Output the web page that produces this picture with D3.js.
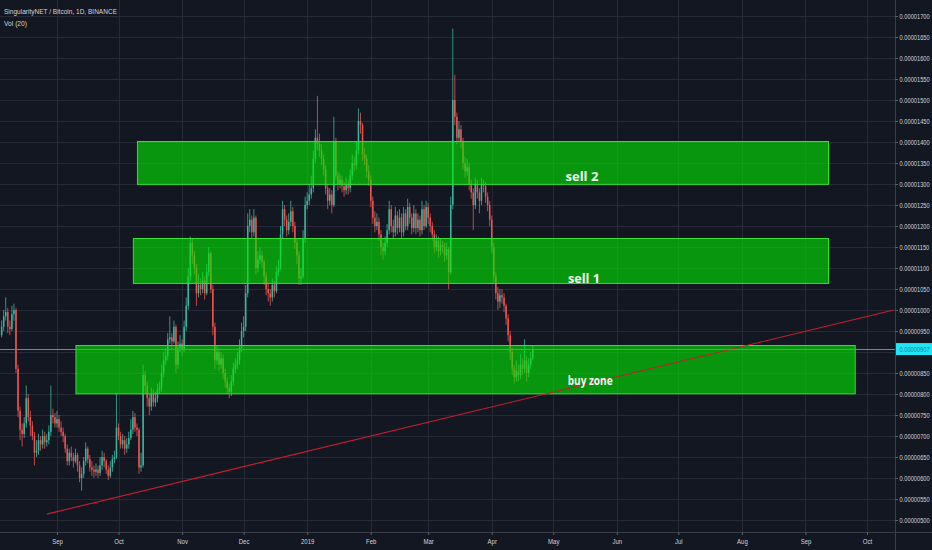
<!DOCTYPE html>
<html><head><meta charset="utf-8">
<script src="https://cdn.jsdelivr.net/npm/d3@7"></script>
<style>
html,body{margin:0;padding:0;background:#131722;}
svg{display:block;}
</style></head><body>
<svg id="chart" width="932" height="550"></svg>
<script>
// ---------- DATA (prices in 1e-8 BTC) ----------
const startDate = "2018-08-05";
const firstOpen = 940;
const closes = [960,985,995,960,955,990,1000,860,760,715,
705,730,790,745,725,700,660,665,690,680,
700,685,690,710,750,745,730,740,720,710,
700,670,640,660,650,640,655,630,600,610,
640,670,645,625,620,615,620,612,630,650,
640,620,605,625,645,650,720,700,680,690,
670,680,695,715,745,720,715,625,630,845,
820,790,770,800,780,790,810,815,850,880,
890,930,935,925,960,870,910,920,905,960,
1010,1080,1160,1130,1100,1040,1060,1050,1070,1040,
1090,1135,1050,960,880,900,870,885,850,830,
815,805,830,860,870,880,910,950,960,1040,
1200,1215,1185,1220,1100,1120,1130,1115,1080,1050,
1040,1030,1060,1045,1090,1100,1180,1240,1215,1190,
1210,1235,1200,1160,1130,1075,1080,1170,1250,1260,
1275,1290,1360,1410,1395,1380,1360,1335,1290,1260,
1275,1250,1400,1320,1300,1310,1295,1285,1300,1290,
1320,1350,1345,1380,1450,1440,1370,1360,1330,1310,
1260,1220,1200,1210,1180,1150,1140,1160,1190,1240,
1200,1185,1225,1195,1220,1185,1230,1200,1245,1220,
1195,1230,1195,1215,1190,1240,1200,1245,1220,1200,
1180,1150,1165,1140,1155,1150,1130,1145,1090,1250,
1500,1460,1410,1430,1400,1350,1330,1340,1300,1280,
1250,1300,1280,1260,1300,1295,1270,1250,1215,1150,
1080,1040,1020,1035,1030,1010,980,940,900,860,
840,855,845,870,860,880,850,870,885,907];
const highs = [975,1000,1030,1005,975,1010,1015,1005,870,770,
730,745,820,800,760,735,710,690,705,700,
715,710,705,725,820,765,755,760,750,735,
720,705,680,670,675,660,670,660,640,625,
650,685,675,655,640,630,635,630,650,665,
660,645,630,640,655,665,800,730,710,705,
700,695,710,740,760,755,730,720,660,870,
855,830,800,815,810,805,825,830,870,900,
910,945,985,945,975,965,925,940,930,975,
1030,1100,1175,1170,1140,1110,1085,1075,1090,1080,
1110,1150,1140,1060,970,915,910,900,895,860,
840,825,845,875,885,900,930,970,985,1060,
1230,1240,1225,1240,1225,1140,1150,1140,1120,1090,
1065,1050,1075,1070,1105,1120,1200,1260,1250,1225,
1230,1260,1245,1210,1170,1140,1100,1190,1270,1280,
1300,1320,1380,1430,1510,1420,1395,1370,1345,1300,
1290,1285,1460,1410,1330,1325,1320,1305,1315,1310,
1335,1370,1365,1400,1480,1470,1445,1385,1370,1345,
1320,1270,1235,1230,1220,1190,1160,1175,1205,1260,
1250,1215,1245,1235,1240,1230,1245,1240,1265,1255,
1230,1250,1240,1230,1225,1260,1250,1260,1255,1230,
1210,1190,1180,1175,1170,1165,1160,1160,1150,1270,
1670,1560,1470,1450,1440,1410,1365,1360,1350,1310,
1290,1315,1310,1290,1315,1310,1305,1280,1260,1225,
1160,1090,1055,1050,1050,1040,1015,990,950,910,
870,880,870,895,885,930,890,885,900,915];
const lows = [935,950,975,945,940,950,975,850,745,690,
675,695,720,735,700,690,630,650,655,665,
670,670,675,680,700,730,720,720,710,700,
685,660,630,630,640,625,635,615,590,570,
600,630,635,615,605,600,605,600,605,620,
625,610,595,600,615,635,645,690,670,670,
655,660,670,690,705,710,700,610,615,625,
800,770,750,760,770,770,780,800,805,840,
870,880,920,905,920,850,860,900,890,900,
950,1000,1070,1110,1085,1010,1030,1035,1040,1025,
1035,1080,1040,940,860,870,855,860,835,815,
800,790,795,820,850,860,870,900,935,950,
1030,1185,1170,1175,1085,1090,1110,1100,1060,1035,
1020,1010,1020,1030,1040,1080,1095,1170,1200,1175,
1180,1200,1185,1145,1110,1060,1060,1075,1160,1240,
1250,1265,1280,1350,1380,1365,1345,1320,1275,1240,
1250,1230,1245,1310,1285,1290,1280,1270,1275,1275,
1280,1310,1330,1335,1370,1420,1355,1345,1315,1295,
1245,1205,1185,1190,1165,1130,1120,1130,1150,1180,
1185,1170,1175,1180,1185,1170,1175,1190,1190,1205,
1180,1185,1180,1185,1175,1180,1190,1195,1205,1185,
1165,1135,1140,1125,1130,1135,1115,1120,1050,1085,
1240,1440,1395,1400,1385,1335,1315,1320,1285,1265,
1190,1240,1265,1230,1250,1280,1255,1235,1200,1135,
1065,1025,1000,1005,1015,995,965,925,880,845,
825,830,830,835,845,850,830,840,860,880];

const priceTicks = [500,550,600,650,700,750,800,850,900,950,1000,1050,1100,1150,1200,1250,1300,1350,1400,1450,1500,1550,1600,1650,1700];
const monthTicks = ["2018-09-01","2018-10-01","2018-11-01","2018-12-01","2019-01-01","2019-02-01","2019-03-01","2019-04-01","2019-05-01","2019-06-01","2019-07-01","2019-08-01","2019-09-01","2019-10-01"];
const monthLabels = ["Sep","Oct","Nov","Dec","2019","Feb","Mar","Apr","May","Jun","Jul","Aug","Sep","Oct"];

const zoneNames = ["sell 2","sell 1","buy zone"];
const zoneFrom = ["2018-10-10","2018-10-08","2018-09-10"];
const zoneTo = ["2019-09-12","2019-09-12","2019-09-25"];
const zoneLow = [1300,1064,802];
const zoneHigh = [1402,1171,917];
const zoneLabelDate = ["2019-05-15","2019-05-16","2019-05-19"];
const zoneLabelPrice = [1319,1076,831];

const trendDates = ["2018-08-27","2019-10-14"];
const trendPrices = [514,1000];
const lastPrice = 907;

const titleText = "SingularityNET / Bitcoin, 1D, BINANCE";
const volText = "Vol (20)";

// ---------- CHART ----------
const parse = d3.utcParse("%Y-%m-%d");
const start = parse(startDate);
const candles = closes.map((c,i)=>({
  date: d3.utcDay.offset(start,i),
  open: i===0 ? firstOpen : closes[i-1],
  high: highs[i], low: lows[i], close: c
}));
const monthDates = monthTicks.map(parse);

const W=932, H=550, plotR=895, plotB=532;
const x = d3.scaleUtc().domain([parse("2018-09-01"), parse("2019-10-01")]).range([57,867]);
const y = d3.scaleLinear().domain([500,1700]).range([520,16]);

const svg = d3.select("#chart");
svg.append("rect").attr("width",W).attr("height",H).attr("fill","#131722");
svg.append("defs").append("clipPath").attr("id","clip")
  .append("rect").attr("width",plotR).attr("height",plotB);
const plot = svg.append("g").attr("clip-path","url(#clip)");

// grid
plot.append("g").selectAll("line").data(priceTicks).join("line")
  .attr("x1",0).attr("x2",plotR)
  .attr("y1",d=>Math.round(y(d))+0.5).attr("y2",d=>Math.round(y(d))+0.5)
  .attr("stroke","#262a36").attr("stroke-width",1);
plot.append("g").selectAll("line").data(monthDates).join("line")
  .attr("x1",d=>Math.round(x(d))+0.5).attr("x2",d=>Math.round(x(d))+0.5)
  .attr("y1",0).attr("y2",plotB)
  .attr("stroke","#262a36").attr("stroke-width",1);

// candles
const upC = "#3bb59e", downC = "#ef5350";
const bw = 1.5;
const cg = plot.append("g");
cg.selectAll("line").data(candles).join("line")
  .attr("x1",d=>x(d.date)).attr("x2",d=>x(d.date))
  .attr("y1",d=>y(d.high)).attr("y2",d=>y(d.low))
  .attr("stroke",d=>d.close>=d.open?upC:downC).attr("stroke-width",0.8);
cg.selectAll("rect").data(candles).join("rect")
  .attr("x",d=>x(d.date)-bw/2).attr("width",bw)
  .attr("y",d=>y(Math.max(d.open,d.close)))
  .attr("height",d=>Math.max(0.8,Math.abs(y(d.open)-y(d.close))))
  .attr("fill",d=>d.close>=d.open?upC:downC);

// zones
const zones = zoneNames.map((n,i)=>({name:n, from:parse(zoneFrom[i]), to:parse(zoneTo[i]), low:zoneLow[i], high:zoneHigh[i], ld:parse(zoneLabelDate[i]), lp:zoneLabelPrice[i]}));
plot.append("g").selectAll("rect").data(zones).join("rect")
  .attr("x",d=>x(d.from)+0.5).attr("width",d=>x(d.to)-x(d.from))
  .attr("y",d=>Math.round(y(d.high))+0.5).attr("height",d=>y(d.low)-y(d.high))
  .attr("fill","rgba(0,235,0,0.6)").attr("stroke","#33e033").attr("stroke-width",1);

// trend line
plot.append("line")
  .attr("x1",x(parse(trendDates[0]))).attr("y1",y(trendPrices[0]))
  .attr("x2",x(parse(trendDates[1]))).attr("y2",y(trendPrices[1]))
  .attr("stroke","#c81e2c").attr("stroke-width",1.1);

// last price line
plot.append("line").attr("x1",0).attr("x2",plotR)
  .attr("y1",Math.round(y(lastPrice))+0.5).attr("y2",Math.round(y(lastPrice))+0.5)
  .attr("stroke","#00b8cc").attr("stroke-width",1);

// zone labels
const labelW = {"sell 2":33,"sell 1":32,"buy zone":45};
plot.append("g").selectAll("text").data(zones).join("text")
  .attr("x",d=>x(d.ld)).attr("y",d=>y(d.lp)+4.5)
  .attr("text-anchor","middle")
  .attr("font-family","'Open Sans', 'DejaVu Sans', sans-serif")
  .attr("font-weight","bold").attr("font-size",13)
  .attr("fill","#f3f7f3")
  .attr("textLength",d=>labelW[d.name]).attr("lengthAdjust","spacingAndGlyphs")
  .text(d=>d.name);

// axis lines
svg.append("line").attr("x1",plotR+0.5).attr("x2",plotR+0.5).attr("y1",0).attr("y2",H)
  .attr("stroke","#3a3e4a");
svg.append("line").attr("x1",0).attr("x2",W).attr("y1",plotB+0.5).attr("y2",plotB+0.5)
  .attr("stroke","#3a3e4a");

const axisFont = "'Liberation Sans', Arial, sans-serif";
const fmtPrice = v => (v/1e8).toFixed(8);
const ya = svg.append("g").attr("transform",`translate(${plotR},0)`)
  .call(d3.axisRight(y).tickValues(priceTicks.filter(v=>Math.abs(y(v)-y(lastPrice))>8)).tickFormat(fmtPrice).tickSize(3).tickPadding(3));
ya.select(".domain").remove();
ya.selectAll(".tick line").attr("stroke","#5a5e6a");
ya.selectAll("text").attr("fill","#d1d4dc").attr("font-size",7.5)
  .attr("font-family",axisFont).attr("transform","scale(0.76,1)");

const xa = svg.append("g").attr("transform",`translate(0,${plotB})`)
  .call(d3.axisBottom(x).tickValues(monthDates).tickFormat((d,i)=>monthLabels[i]).tickSize(3).tickPadding(4));
xa.select(".domain").remove();
xa.selectAll(".tick line").attr("stroke","#5a5e6a");
xa.selectAll("text").attr("fill","#d1d4dc").attr("font-size",7.5)
  .attr("font-family",axisFont).attr("transform","scale(0.8,1)");

// last price tag
const ly = y(lastPrice);
svg.append("rect").attr("x",plotR+1).attr("y",ly-6).attr("width",W-plotR-1).attr("height",12)
  .attr("fill","#1ee6f5");
svg.append("text").attr("x",(plotR+4.5)/0.76).attr("y",ly+2.6)
  .attr("transform","scale(0.76,1)")
  .attr("font-size",7.5).attr("font-family",axisFont).attr("fill","#157e8c")
  .text(fmtPrice(lastPrice));

// titles
svg.append("text").attr("x",4).attr("y",13.5).attr("font-size",8).attr("font-family",axisFont)
  .attr("fill","#d1d4dc").attr("textLength",113).attr("lengthAdjust","spacingAndGlyphs").text(titleText);
svg.append("text").attr("x",4).attr("y",26).attr("font-size",8).attr("font-family",axisFont)
  .attr("fill","#d1d4dc").attr("textLength",23).attr("lengthAdjust","spacingAndGlyphs").text(volText);
</script>
</body></html>
